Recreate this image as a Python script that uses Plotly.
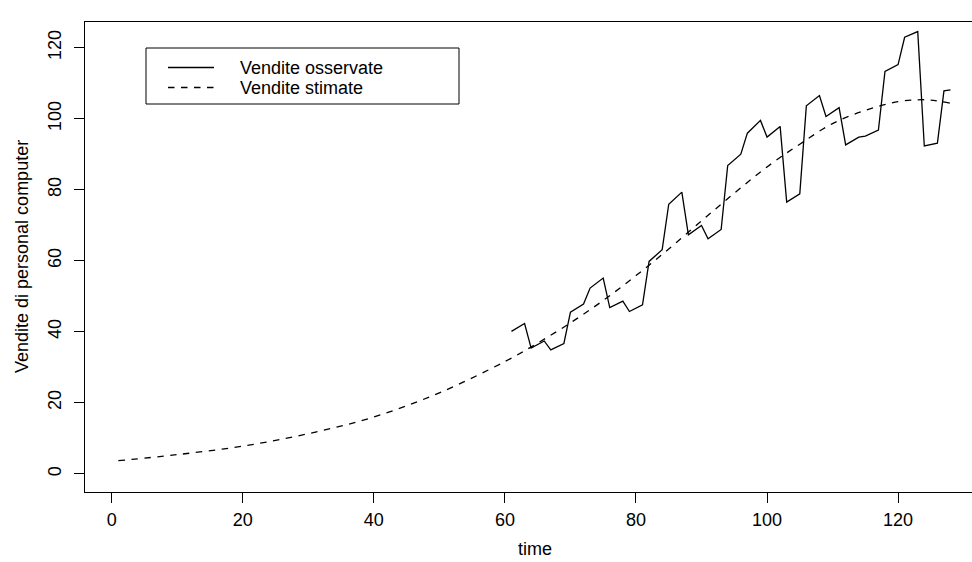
import plotly.graph_objects as go

# Observed monthly sales (time index 61..128)
obs_time = list(range(61, 129))
obs_sales = [
    40.1, 41.2, 42.3, 35.4, 36.4, 37.4, 34.9, 35.8, 36.7, 45.5,
    46.6, 47.8, 52.3, 53.7, 55.1, 46.8, 47.7, 48.6, 45.7, 46.6,
    47.6, 59.8, 61.4, 63.1, 75.9, 77.6, 79.3, 67.3, 68.6, 69.9,
    66.2, 67.5, 68.8, 86.8, 88.4, 90.0, 95.9, 97.7, 99.5, 94.8,
    96.3, 97.8, 76.5, 77.6, 78.8, 103.6, 105.0, 106.5, 100.6, 101.8,
    103.1, 92.6, 93.7, 94.8, 95.1, 96.0, 96.8, 113.3, 114.2, 115.2,
    122.9, 123.7, 124.5, 92.3, 92.7, 93.1, 107.8, 108.1,
]

# Fitted trend (estimated sales) over the whole time span
fit_time = [1, 10, 20, 30, 40, 50, 60, 65, 70, 75, 80, 85, 90, 95,
            100, 105, 110, 115, 120, 123, 125, 128]
fit_sales = [3.7, 5.4, 7.8, 11.3, 16.0, 22.8, 31.6, 36.8, 42.5, 48.8,
             55.8, 63.3, 71.2, 79.0, 86.4, 92.8, 98.6, 102.3, 104.8,
             105.3, 105.2, 104.3]

x_ticks = [0, 20, 40, 60, 80, 100, 120]
y_ticks = [0, 20, 40, 60, 80, 100, 120]

legend_labels = ["Vendite osservate", "Vendite stimate"]
x_title = "time"
y_title = "Vendite di personal computer"

FONT = "Liberation Sans, Arial, sans-serif"
FS = 18
DASH = "6.5px,6.5px"

fig = go.Figure()
fig.add_trace(go.Scatter(
    x=obs_time, y=obs_sales, mode="lines", name=legend_labels[0],
    line=dict(color="black", width=1.3), showlegend=False,
))
fig.add_trace(go.Scatter(
    x=fit_time, y=fit_sales, mode="lines", name=legend_labels[1],
    line=dict(color="black", width=1.3, dash=DASH, shape="spline", smoothing=1.0),
    showlegend=False,
))

W, H = 972, 562
ML, MR, MT, MB = 85, 0, 22, 70
pw, ph = W - ML - MR, H - MT - MB


def px(xp):
    return (xp - ML) / pw


def py(yp):
    return 1 - (yp - MT) / ph


shapes = []
annotations = []

# Legend frame
shapes.append(dict(type="rect", xref="paper", yref="paper",
                   x0=px(146), x1=px(459), y0=py(104), y1=py(48),
                   line=dict(color="black", width=1), fillcolor="white",
                   layer="above"))
# Legend keys and labels
for i, (lab, dash) in enumerate(zip(legend_labels, ["solid", DASH])):
    yy = 67.5 + 20 * i
    shapes.append(dict(type="line", xref="paper", yref="paper",
                       x0=px(168), x1=px(214), y0=py(yy), y1=py(yy),
                       line=dict(color="black", width=1.3, dash=dash),
                       layer="above"))
    annotations.append(dict(xref="paper", yref="paper", x=px(238), y=py(yy),
                            text=lab, showarrow=False, xanchor="left",
                            yanchor="middle",
                            font=dict(family=FONT, size=FS, color="black")))

# Axis titles, centred on the full plotting region (which extends past the page edge)
annotations.append(dict(xref="paper", yref="paper", x=px(535), y=py(549),
                        text=x_title, showarrow=False, xanchor="center",
                        yanchor="middle",
                        font=dict(family=FONT, size=FS, color="black")))
annotations.append(dict(xref="paper", yref="paper", x=px(22), y=py(257),
                        text=y_title, showarrow=False, xanchor="center",
                        yanchor="middle", textangle=-90,
                        font=dict(family=FONT, size=FS, color="black")))

axis_common = dict(
    showline=True, linecolor="black", linewidth=1,
    ticks="outside", ticklen=10, tickwidth=1, tickcolor="black",
    showgrid=False, zeroline=False,
    tickfont=dict(family=FONT, size=FS, color="black"),
)

# Plot region: left, bottom and top frame lines; the right edge runs past the page
fig.update_layout(
    width=W, height=H,
    margin=dict(l=ML, r=MR, t=MT, b=MB),
    paper_bgcolor="white", plot_bgcolor="white",
    xaxis=dict(range=[-4.08, 131.28], tickvals=x_ticks, mirror=True,
               ticklabelstandoff=1, **axis_common),
    yaxis=dict(range=[-5.12, 127.2], tickvals=y_ticks, tickangle=-90,
               mirror=False, ticklabelstandoff=6, **axis_common),
    shapes=shapes,
    annotations=annotations,
    showlegend=False,
)

fig.write_html("out.html")
